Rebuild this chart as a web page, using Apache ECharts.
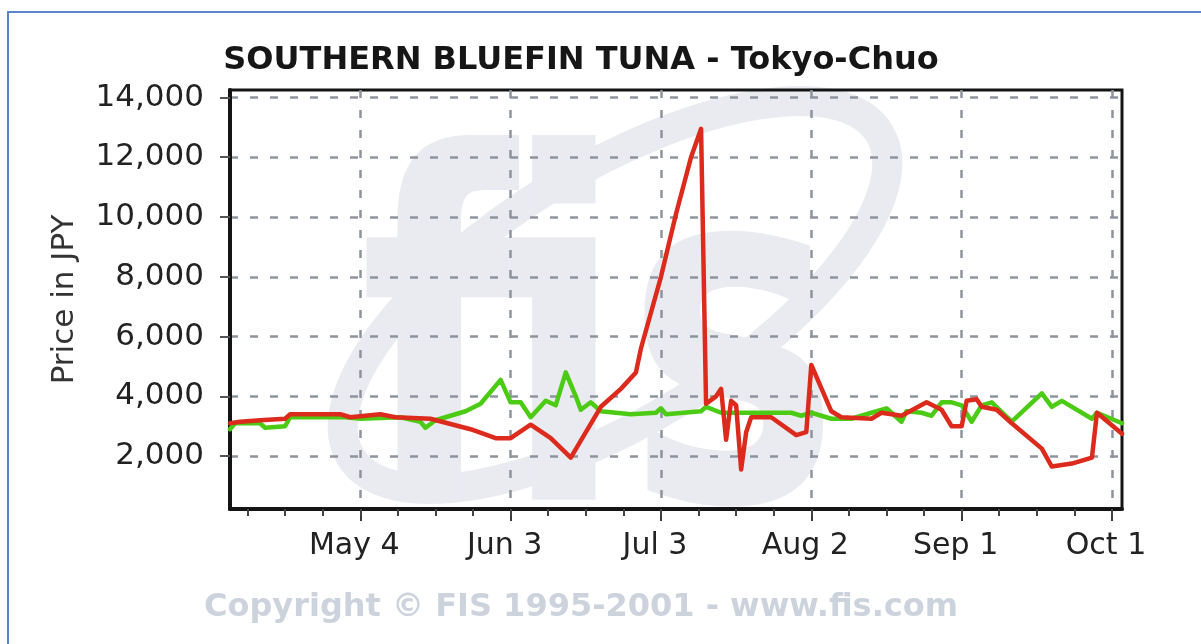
<!DOCTYPE html>
<html>
<head>
<meta charset="utf-8">
<script src="https://cdn.jsdelivr.net/npm/echarts@6/dist/echarts.min.js"></script>
<style>
  html, body { margin: 0; padding: 0; background: #ffffff; }
  #chart { width: 1201px; height: 644px; }
</style>
</head>
<body>
<div id="chart"></div>
<script>
// Texts
const chartTitle = 'SOUTHERN BLUEFIN TUNA - Tokyo-Chuo';
const yAxisName = 'Price in JPY';
const copyrightText = 'Copyright \u00A9 FIS 1995-2001 - www.fis.com';

// Red series (price in JPY)
const redDates = [
  '2001-04-08','2001-04-10','2001-04-14','2001-04-19','2001-04-20','2001-04-30',
  '2001-05-02','2001-05-05','2001-05-08','2001-05-11','2001-05-18','2001-05-26',
  '2001-05-31','2001-06-03','2001-06-07','2001-06-11','2001-06-15','2001-06-21',
  '2001-06-25','2001-06-28','2001-06-29','2001-07-03','2001-07-06','2001-07-09',
  '2001-07-11','2001-07-12','2001-07-14','2001-07-15','2001-07-16','2001-07-17',
  '2001-07-18','2001-07-19','2001-07-20','2001-07-21','2001-07-25','2001-07-30',
  '2001-08-01','2001-08-02','2001-08-06','2001-08-08','2001-08-14','2001-08-16',
  '2001-08-20','2001-08-25','2001-08-28','2001-08-30','2001-09-01','2001-09-02',
  '2001-09-04','2001-09-05','2001-09-08','2001-09-11','2001-09-17','2001-09-19',
  '2001-09-23','2001-09-27','2001-09-28','2001-10-03'
];
const redValues = [
  3100, 3150, 3200, 3250, 3400, 3400,
  3300, 3350, 3400, 3300, 3250, 2900,
  2600, 2600, 3050, 2600, 1950, 3650,
  4250, 4800, 5600, 8000, 10100, 12000,
  12950, 3750, 4000, 4250, 2550, 3850,
  3700, 1550, 2800, 3300, 3300, 2700,
  2800, 5050, 3500, 3300, 3250, 3450,
  3350, 3800, 3550, 3000, 3000, 3850,
  3900, 3650, 3550, 3100, 2250, 1650,
  1750, 1950, 3450, 2750
];

// Green series (price in JPY)
const greenDates = [
  '2001-04-08','2001-04-09','2001-04-14','2001-04-15','2001-04-19','2001-04-20',
  '2001-05-01','2001-05-04','2001-05-12','2001-05-16','2001-05-17','2001-05-19',
  '2001-05-22','2001-05-25','2001-05-28','2001-06-01','2001-06-03','2001-06-05',
  '2001-06-07','2001-06-10','2001-06-12','2001-06-14','2001-06-16','2001-06-17',
  '2001-06-19','2001-06-21','2001-06-27','2001-07-02','2001-07-03','2001-07-04',
  '2001-07-11','2001-07-12','2001-07-15','2001-07-23','2001-07-29','2001-07-31',
  '2001-08-02','2001-08-06','2001-08-10','2001-08-14','2001-08-17','2001-08-20',
  '2001-08-21','2001-08-24','2001-08-26','2001-08-28','2001-08-30','2001-09-01',
  '2001-09-03','2001-09-05','2001-09-07','2001-09-11','2001-09-17','2001-09-19',
  '2001-09-21','2001-09-27','2001-09-28','2001-10-03'
];
const greenValues = [
  2900, 3100, 3100, 2950, 3000, 3300,
  3300, 3250, 3300, 3150, 2950, 3200,
  3350, 3500, 3750, 4550, 3800, 3800,
  3300, 3850, 3700, 4800, 4000, 3550,
  3800, 3500, 3400, 3450, 3600, 3400,
  3500, 3650, 3450, 3450, 3450, 3350,
  3450, 3250, 3250, 3450, 3600, 3150,
  3500, 3450, 3350, 3800, 3800, 3700,
  3150, 3700, 3800, 3150, 4100, 3650,
  3850, 3250, 3450, 3100
];

// Axes
const xStartDate = '2001-04-08';
const xEndDate = '2001-10-03';
const xTickDates = ['2001-05-04','2001-06-03','2001-07-03','2001-08-02','2001-09-01','2001-10-01'];
const xTickLabels = ['May 4','Jun 3','Jul 3','Aug 2','Sep 1','Oct 1'];
const xMinorPerMajor = 4;
const yMin = 230;
const yMax = 14250;
const yTickValues = [2000, 4000, 6000, 8000, 10000, 12000, 14000];

const DAY = 86400000;
function toTime(s) {
  const p = s.split('-').map(Number);
  return Date.UTC(p[0], p[1] - 1, p[2]);
}
const xMinTime = toTime(xStartDate);
const xMaxTime = toTime(xEndDate);
const majorTimes = xTickDates.map(toTime);
const majorStep = majorTimes[1] - majorTimes[0];
const minorTimes = [];
for (let t = majorTimes[0] - majorStep; t <= xMaxTime; t += majorStep / xMinorPerMajor) {
  if (t >= xMinTime && t <= xMaxTime) minorTimes.push(t);
}

function pairs(dates, values) {
  return dates.map((d, i) => [toTime(d), values[i]]);
}

const FONT = 'DejaVu Sans';
const gridDash = { type: [8, 12], color: '#8e949d', width: 2.5 };
const logoColor = '#e9ebf1';

const chart = echarts.init(document.getElementById('chart'), null, { renderer: 'canvas' });
chart.setOption({
  backgroundColor: '#ffffff',
  animation: false,
  grid: {
    left: 230, right: 79, top: 90, bottom: 135,
    show: true, borderColor: '#141414', borderWidth: 3
  },
  xAxis: [{
    type: 'value',
    min: xMinTime, max: xMaxTime,
    axisLine: { show: true, onZero: false, lineStyle: { color: '#141414', width: 4 } },
    axisTick: { show: true, customValues: majorTimes, length: 12, lineStyle: { color: '#3a3a3a', width: 2 } },
    axisLabel: {
      customValues: majorTimes,
      formatter: function (v) {
        const i = majorTimes.findIndex(t => Math.abs(t - v) < DAY / 2);
        return i >= 0 ? xTickLabels[i] : '';
      },
      fontFamily: FONT, fontSize: 30, color: '#222222', margin: 22,
      padding: [0, 12, 0, 0]
    },
    splitLine: { show: true, lineStyle: gridDash }
  }, {
    type: 'value',
    min: xMinTime, max: xMaxTime,
    position: 'bottom',
    axisLine: { show: false, onZero: false },
    axisLabel: { show: false },
    splitLine: { show: false },
    axisTick: { show: true, customValues: minorTimes, length: 7, lineStyle: { color: '#444444', width: 2 } }
  }],
  yAxis: {
    type: 'value',
    min: yMin, max: yMax,
    name: yAxisName,
    nameLocation: 'middle',
    nameGap: 150,
    nameTextStyle: { fontFamily: FONT, fontSize: 31, color: '#333333' },
    axisLine: { show: true, onZero: false, lineStyle: { color: '#141414', width: 4 } },
    axisTick: { show: true, customValues: yTickValues, length: 10, lineStyle: { color: '#555555', width: 2 } },
    axisLabel: {
      customValues: yTickValues,
      formatter: v => Number(v).toLocaleString('en-US'),
      fontFamily: FONT, fontSize: 31, color: '#222222', margin: 26
    },
    splitLine: { show: true, lineStyle: gridDash }
  },
  graphic: {
    elements: [
      // outer blue frame
      {
        type: 'rect', z: -20, silent: true,
        shape: { x: 8, y: 12, width: 1400, height: 800 },
        style: { fill: 'none', stroke: '#5a85c9', lineWidth: 2 }
      },
      // faint logo behind the plot
      {
        type: 'ellipse', z: -10, silent: true,
        x: 615, y: 295, rotation: 0.55,
        shape: { cx: 0, cy: 0, rx: 310, ry: 125 },
        style: { fill: 'none', stroke: logoColor, lineWidth: 30 }
      },
      {
        type: 'text', z: -10, silent: true,
        x: 359, y: 615, scaleX: 0.75,
        style: {
          text: 'fis', fontFamily: FONT, fontWeight: 'bold', fontSize: 480,
          fill: logoColor, textAlign: 'left', textVerticalAlign: 'bottom'
        }
      },
      // title
      {
        type: 'text', z: 10,
        x: 581, y: 61,
        style: {
          text: chartTitle, fontFamily: FONT, fontWeight: 'bold', fontSize: 32,
          fill: '#161616', textAlign: 'center', textVerticalAlign: 'middle'
        }
      },
      // copyright line
      {
        type: 'text', z: 10,
        x: 581, y: 608,
        style: {
          text: copyrightText, fontFamily: FONT, fontWeight: 'bold', fontSize: 32,
          fill: '#cdd3dc', textAlign: 'center', textVerticalAlign: 'middle'
        }
      }
    ]
  },
  series: [{
    name: 'Green',
    type: 'line',
    xAxisIndex: 0,
    data: pairs(greenDates, greenValues),
    showSymbol: false,
    lineStyle: { color: '#4ccb14', width: 4.5, join: 'round', cap: 'round' },
    z: 3
  }, {
    name: 'Red',
    type: 'line',
    xAxisIndex: 0,
    data: pairs(redDates, redValues),
    showSymbol: false,
    lineStyle: { color: '#dc2a1c', width: 4.5, join: 'round', cap: 'round' },
    z: 4
  }]
});
</script>
</body>
</html>
